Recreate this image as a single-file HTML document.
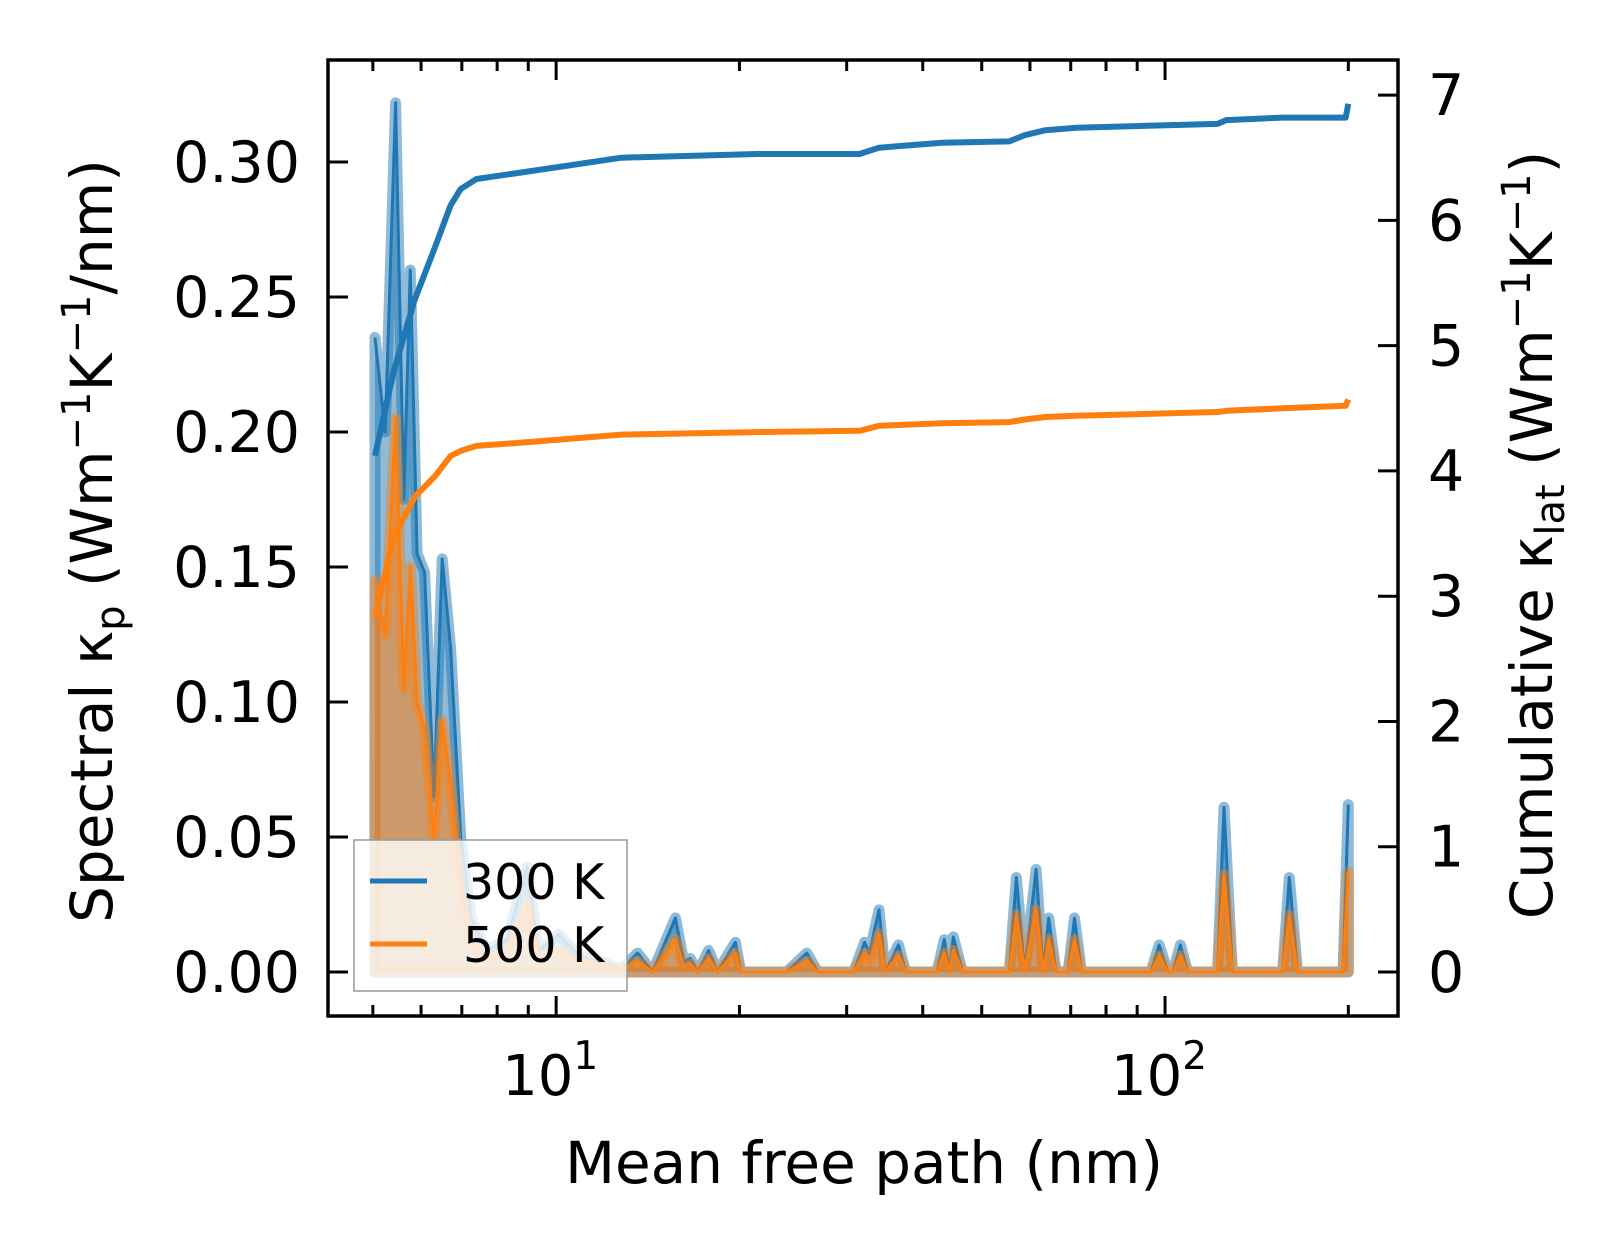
<!DOCTYPE html>
<html><head><meta charset="utf-8"><style>
html,body{margin:0;padding:0;background:#fff;}
svg{display:block;font-family:"DejaVu Sans","Liberation Sans",sans-serif;}
</style></head><body>
<svg id="chart" width="1623" height="1254" viewBox="0 0 1623 1254" xmlns="http://www.w3.org/2000/svg"></svg>
<script>
// ---- data ----
const mfpNm = [5.04,5.24,5.45,5.62,5.76,5.91,6.08,6.30,6.50,6.71,6.97,7.25,7.69,8.31,8.96,9.35,10.1,10.9,11.8,12.8,13.6,14.4,15.7,16.2,16.6,17.1,17.8,18.4,19.7,20.1,23.9,25.8,26.9,30.8,32.1,32.7,33.9,34.7,36.5,37.5,42.2,43.4,44.2,44.9,46.5,55.5,57.0,58.8,61.4,63.1,64.4,66.2,69.3,71.0,72.9,94.8,97.8,101,103,106,109,122,125,129,156,160,165,196,200];
const spectral300 = [0.235,0.20,0.322,0.175,0.26,0.155,0.148,0.065,0.153,0.12,0.05,0.02,0.008,0.012,0.039,0.008,0.014,0.006,0.004,0.001,0.007,0,0.02,0.004,0.005,0,0.008,0,0.011,0,0,0.007,0,0,0.011,0.007,0.023,0,0.01,0,0,0.012,0,0.013,0,0,0.035,0,0.038,0,0.02,0,0,0.02,0,0,0.01,0,0,0.01,0,0,0.061,0,0,0.035,0,0,0.062];
const spectral500 = [0.145,0.125,0.205,0.105,0.15,0.10,0.09,0.05,0.093,0.07,0.03,0.012,0.005,0.007,0.025,0.005,0.008,0.004,0.003,0.001,0.004,0,0.012,0.002,0.003,0,0.005,0,0.007,0,0,0.004,0,0,0.007,0.004,0.014,0,0.006,0,0,0.007,0,0.008,0,0,0.021,0,0.023,0,0.012,0,0,0.012,0,0,0.006,0,0,0.006,0,0,0.036,0,0,0.021,0,0,0.037];
const cumNm = [5.04,5.4,5.85,6.33,6.71,6.97,7.4,8.99,12.8,21.4,31.5,33.9,43.0,55.5,58.8,63.6,71.5,122,126,156,198,200];
const cum300 = [4.12,4.78,5.36,5.79,6.12,6.25,6.33,6.39,6.50,6.53,6.53,6.58,6.62,6.63,6.68,6.72,6.74,6.77,6.80,6.82,6.82,6.93];
const cum500 = [2.83,3.46,3.79,3.96,4.12,4.16,4.20,4.23,4.29,4.31,4.32,4.36,4.38,4.39,4.41,4.43,4.44,4.47,4.48,4.50,4.52,4.57];
const leftTicks = [0,0.05,0.10,0.15,0.20,0.25,0.30];
const leftTickLabels = ["0.00","0.05","0.10","0.15","0.20","0.25","0.30"];
const rightTicks = [0,1,2,3,4,5,6,7];
const xMajor = [10,100];
const xMajorExp = ["1","2"];

// ---- axes ----
const L=328,R=1398,T=60,B=1016;
const xMin=Math.log10(4.22), xMax=2.3826;
const X=v=>L+(Math.log10(v)-xMin)/(xMax-xMin)*(R-L);
const yLmin=-0.0163,yLmax=0.3378;
const YL=v=>B-(v-yLmin)/(yLmax-yLmin)*(B-T);
const yRmin=-0.351,yRmax=7.28;
const YR=v=>B-(v-yRmin)/(yRmax-yRmin)*(B-T);

const svg=document.getElementById('chart');
const NS="http://www.w3.org/2000/svg";
function mk(tag,attrs,parent){const e=document.createElementNS(NS,tag);for(const k in attrs)e.setAttribute(k,attrs[k]);(parent||svg).appendChild(e);return e;}

const clip=mk('clipPath',{id:'plotclip'});mk('rect',{x:L,y:T,width:R-L,height:B-T},clip);
const plot=mk('g',{'clip-path':'url(#plotclip)'});

function seriesPts(xs,ys,yf){return xs.map((x,i)=>X(x).toFixed(1)+','+yf(ys[i]).toFixed(1));}
function drawSpectral(vals,color,fillOp,haloOp,name){
  const pts=seriesPts(mfpNm,vals,YL);
  const area=mk('polygon',{points:X(mfpNm[0])+','+YL(0)+' '+pts.join(' ')+' '+X(mfpNm[mfpNm.length-1])+','+YL(0),fill:color,'fill-opacity':fillOp,stroke:color,'stroke-opacity':haloOp,'stroke-width':11,'stroke-linejoin':'round'},plot);
  
  
  const ln=mk('polyline',{points:pts.join(' '),fill:'none',stroke:color,'stroke-width':3,'stroke-linejoin':'round'},plot);
  
  
}
drawSpectral(spectral300,'#1f77b4',0.5,0.5,'spectral-300k');
drawSpectral(spectral500,'#ff7f0e',0.55,0.45,'spectral-500k');
function drawCum(vals,color,name){
  const ln=mk('polyline',{points:seriesPts(cumNm,vals,YR).join(' '),fill:'none',stroke:color,'stroke-width':6,'stroke-linejoin':'round'},plot);
  
  
}
drawCum(cum300,'#1f77b4','cumulative-300k');
drawCum(cum500,'#ff7f0e','cumulative-500k');

// ticks
const tk=mk('g',{stroke:'#000','stroke-width':3});


for(let d=0;d<=2;d++){for(let m=1;m<=9;m++){const v=m*Math.pow(10,d);const lv=Math.log10(v);if(lv<xMin||lv>xMax)continue;const x=X(v);const len=(m===1)?20:11;
  mk('line',{x1:x,y1:B,x2:x,y2:B-len},tk);mk('line',{x1:x,y1:T,x2:x,y2:T+len},tk);}}
leftTicks.forEach((v,i)=>{const y=YL(v);mk('line',{x1:L,y1:y,x2:L+20,y2:y},tk);
  const t=mk('text',{x:300,y:y+20,'text-anchor':'end','font-size':57,fill:'#000'});t.textContent=leftTickLabels[i];
  
  });
rightTicks.forEach(v=>{const y=YR(v);mk('line',{x1:R,y1:y,x2:R-20,y2:y},tk);
  const t=mk('text',{x:1428,y:y+20,'text-anchor':'start','font-size':57,fill:'#000'});t.textContent=String(v);
  
  });
xMajor.forEach((v,i)=>{const x=X(v);const t=mk('text',{x:x-6,y:1095,'text-anchor':'middle','font-size':56,fill:'#000'});
  t.textContent='10';const s=mk('tspan',{'font-size':39,dy:-26},t);s.textContent=xMajorExp[i];
  
  });

// spines
const sp=mk('rect',{x:L,y:T,width:R-L,height:B-T,fill:'none',stroke:'#000','stroke-width':3.5});



// legend
const lg=mk('g',{});


mk('rect',{x:354,y:840,width:273,height:151,fill:'#fff','fill-opacity':0.8,stroke:'#999','stroke-width':1.5},lg);
const e1=mk('g',{},lg);


mk('line',{x1:370,y1:881,x2:427,y2:881,stroke:'#1f77b4','stroke-width':5},e1);
const t1=mk('text',{x:463,y:899,'font-size':49,fill:'#000'},e1);t1.textContent='300 K';
const e2=mk('g',{},lg);


mk('line',{x1:370,y1:944,x2:427,y2:944,stroke:'#ff7f0e','stroke-width':5},e2);
const t2=mk('text',{x:463,y:962,'font-size':49,fill:'#000'},e2);t2.textContent='500 K';
</script>
<svg style="position:absolute;left:0;top:0" width="1623" height="1254" xmlns="http://www.w3.org/2000/svg">
<text x="864" y="1183" text-anchor="middle" font-size="58" font-family="DejaVu Sans, Liberation Sans, sans-serif">Mean free path (nm)</text>
<text transform="translate(112,541) rotate(-90)" text-anchor="middle" font-size="58" font-family="DejaVu Sans, Liberation Sans, sans-serif">Spectral κ<tspan font-size="40" dy="12">p</tspan><tspan dy="-12"> (Wm</tspan><tspan font-size="40" dy="-22">−1</tspan><tspan dy="22">K</tspan><tspan font-size="40" dy="-22">−1</tspan><tspan dy="22">/nm)</tspan></text>
<text transform="translate(1552,535) rotate(-90)" text-anchor="middle" font-size="58" font-family="DejaVu Sans, Liberation Sans, sans-serif">Cumulative κ<tspan font-size="40" dy="12">lat</tspan><tspan dy="-12"> (Wm</tspan><tspan font-size="40" dy="-22">−1</tspan><tspan dy="22">K</tspan><tspan font-size="40" dy="-22">−1</tspan><tspan dy="22">)</tspan></text>
</svg>
</body></html>
